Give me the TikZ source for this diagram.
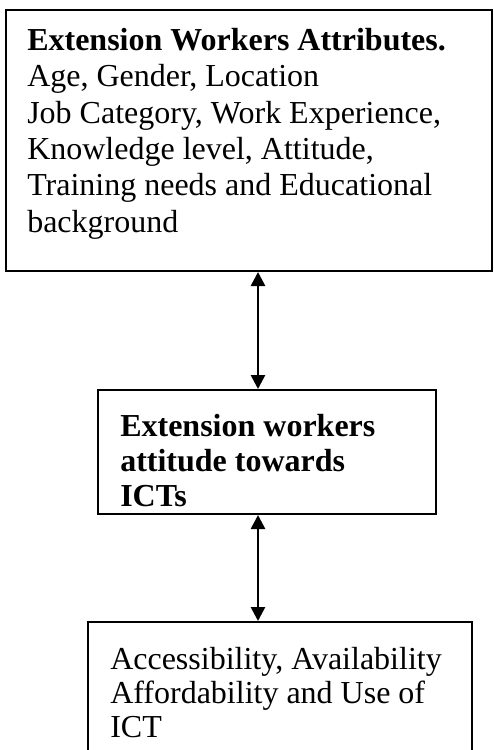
\documentclass[tikz,border=0pt]{standalone}
\usepackage{fontspec}
\setmainfont{Liberation Serif}
\usetikzlibrary{arrows.meta}

\begin{document}
\begin{tikzpicture}[x=0.75pt,y=-0.75pt,
    box/.style={draw,line width=1.5pt,inner sep=0pt},
    txt/.style={anchor=base west,align=left,inner sep=0pt,font=\fontsize{24}{27.2}\selectfont},
    bold/.style={txt,font=\fontsize{24}{26.25}\selectfont\bfseries},
    link/.style={{Triangle[length=10.5pt,width=10.5pt]}-{Triangle[length=10.5pt,width=10.5pt]},line width=2pt}]
    \useasboundingbox (0,0) rectangle (493,750);
    % boxes
    \node[box,minimum width=364.5pt,minimum height=195.75pt] (attr) at (249,140.5) {};
    \node[box,minimum width=253.5pt,minimum height=93pt] (attitude) at (267,452) {};
    \node[box,minimum width=288pt,minimum height=111pt] (access) at (280,696) {};
    % texts (placed by their last baseline)
    \node[txt] (attrtext) at (27,232) {\textbf{Extension Workers Attributes.}\\Age, Gender, Location\\Job Category, Work Experience,\\Knowledge level, Attitude,\\Training needs and Educational\\background};
    \node[bold] (attitudetext) at (120,506) {Extension workers\\attitude towards\\ICTs};
    \node[txt,font=\fontsize{24}{25.5}\selectfont] (accesstext) at (110,737) {Accessibility, Availability\\Affordability and Use of\\ICT};
    % links
    \coordinate (axis) at (258,0);
    \draw[link] (attr.south -| axis) -- (attitude.north -| axis);
    \draw[link] (attitude.south -| axis) -- (access.north -| axis);
\end{tikzpicture}
\end{document}
